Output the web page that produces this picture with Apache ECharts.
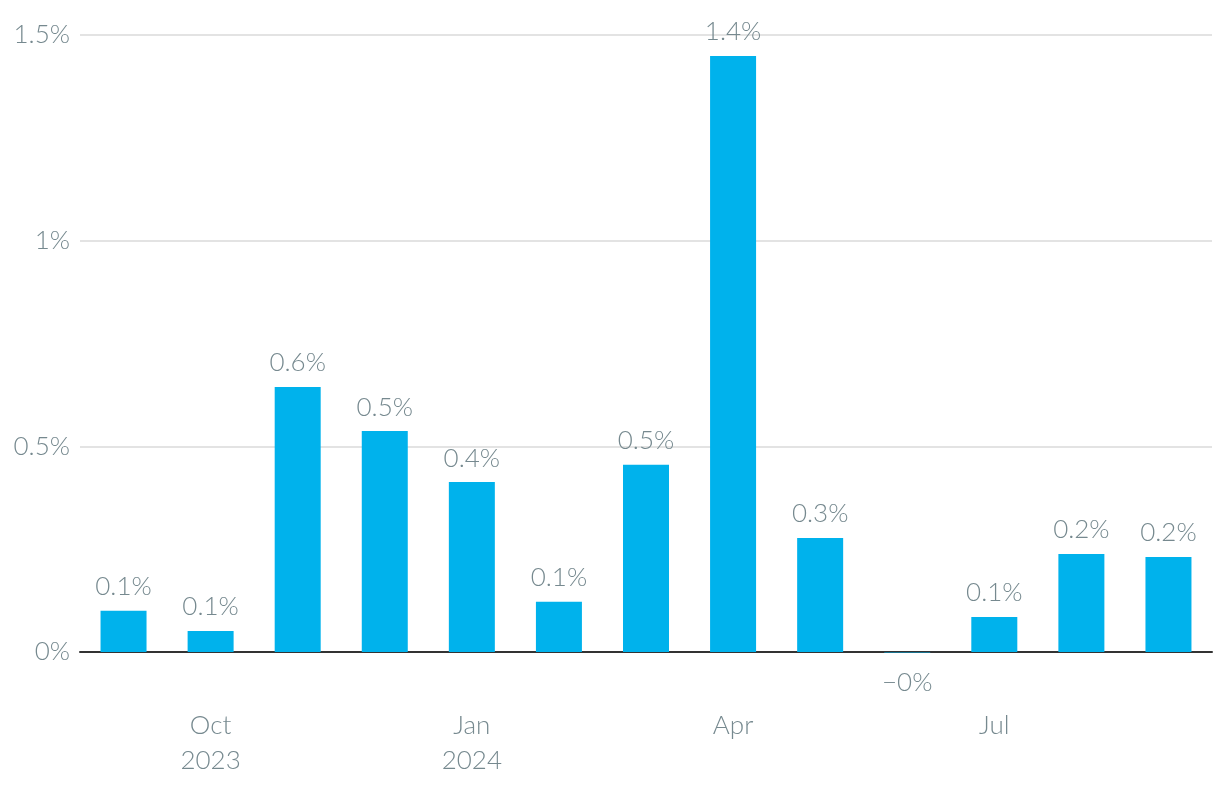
<!DOCTYPE html>
<html>
<head>
<meta charset="utf-8">
<script src="https://cdn.jsdelivr.net/npm/echarts@6/dist/echarts.min.js"></script>
<style>html,body{margin:0;padding:0;background:#fff;}#c{width:1220px;height:794px;}</style>
</head>
<body>
<div id="c"></div>
<script>
const months = ['2023-09','2023-10','2023-11','2023-12','2024-01','2024-02','2024-03','2024-04','2024-05','2024-06','2024-07','2024-08','2024-09'];
const tickLabels = ['', 'Oct\n2023', '', '', 'Jan\n2024', '', '', 'Apr', '', '', 'Jul', '', ''];
const values = [0.10, 0.051, 0.644, 0.537, 0.413, 0.122, 0.455, 1.449, 0.277, -0.001, 0.085, 0.238, 0.231];
const yTicks = [0, 0.5, 1, 1.5];

const textColor = '#76898f';
const font = 'Lato';

function pct(v) {
  const r = Math.round(v * 10) / 10;
  return (v < 0 ? '\u2212' : '') + Math.abs(r) + '%';
}

const chart = echarts.init(document.getElementById('c'));
chart.setOption({
  animation: false,
  grid: { left: 80, right: 8, top: 35, bottom: 142, containLabel: false },
  xAxis: {
    type: 'category',
    data: months,
    axisLine: { lineStyle: { color: '#333', width: 2 } },
    axisTick: { show: false },
    axisLabel: {
      interval: 0,
      formatter: (v, i) => tickLabels[i],
      color: textColor,
      fontFamily: font,
      fontWeight: 300,
      fontSize: 26,
      lineHeight: 35,
      margin: 56
    }
  },
  yAxis: {
    type: 'value',
    min: yTicks[0],
    max: yTicks[yTicks.length - 1],
    interval: 0.5,
    axisLine: { show: false },
    axisTick: { show: false },
    splitLine: { lineStyle: { color: '#e3e3e3', width: 2 } },
    axisLabel: {
      formatter: v => (Math.round(v * 10) / 10) + '%',
      color: textColor,
      fontFamily: font,
      fontWeight: 300,
      fontSize: 26,
      margin: 10
    }
  },
  series: [{
    type: 'bar',
    clip: false,
    barWidth: 46,
    itemStyle: { color: '#00b2ec' },
    label: {
      show: true,
      position: 'top',
      distance: 11,
      formatter: p => pct(p.value),
      color: textColor,
      fontFamily: font,
      fontWeight: 300,
      fontSize: 26
    },
    data: values.map(v => v < 0 ? { value: v, label: { position: 'bottom', distance: 17 } } : v)
  }]
});
</script>
</body>
</html>
